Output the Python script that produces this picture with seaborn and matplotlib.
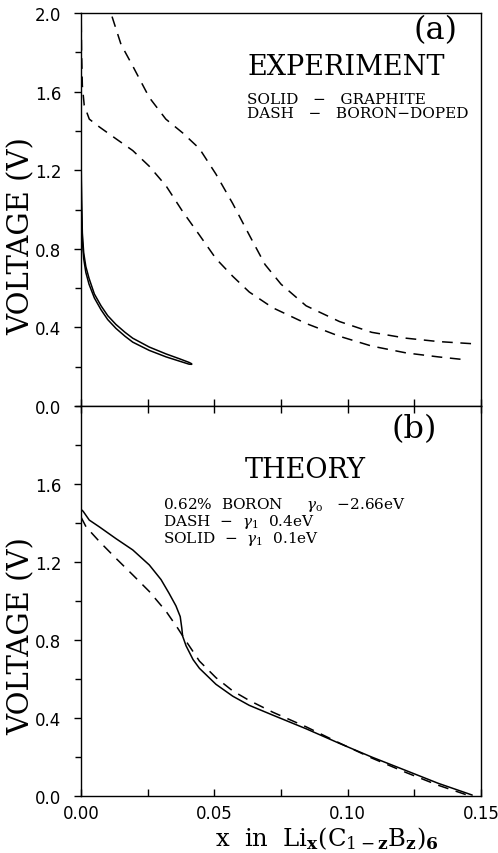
import matplotlib
matplotlib.use("Agg")
import matplotlib.pyplot as plt
import seaborn as sns
from matplotlib.ticker import MultipleLocator, FixedLocator, FormatStrFormatter

sns.set_style("ticks")
plt.rcParams["font.family"] = ["DejaVu Sans"]
plt.rcParams["mathtext.fontset"] = "dejavuserif"
for key in ("text.color", "axes.labelcolor", "xtick.color", "ytick.color", "axes.edgecolor"):
    plt.rcParams[key] = "black"

SERIF = "DejaVu Serif"

# (a) experiment: graphite (two solid branches)
graphite_x = [0.0000, 0.0002, 0.0005, 0.0010, 0.0018, 0.0030, 0.0050, 0.0075, 0.0100,
              0.0131, 0.0165, 0.0194, 0.0256, 0.0319, 0.0370, 0.0405, 0.0415]
graphite_v_upper = [1.30, 1.05, 0.88, 0.78, 0.71, 0.65, 0.57, 0.51, 0.46,
                    0.415, 0.375, 0.345, 0.300, 0.265, 0.240, 0.222, 0.215]
graphite_v_lower = [1.25, 1.00, 0.84, 0.75, 0.68, 0.62, 0.55, 0.49, 0.44,
                    0.395, 0.355, 0.325, 0.283, 0.250, 0.228, 0.213, 0.212]

# (a) experiment: boron-doped (two dashed branches)
boron_up_x = [0.0095, 0.0112, 0.0150, 0.0194, 0.0256, 0.0318, 0.0381, 0.0444, 0.0506,
              0.0569, 0.0631, 0.0690, 0.0750, 0.0844, 0.0969, 0.1090, 0.1220, 0.1340, 0.1480]
boron_up_v = [2.08, 2.00, 1.84, 1.73, 1.57, 1.46, 1.39, 1.31, 1.18,
              1.03, 0.87, 0.72, 0.62, 0.51, 0.43, 0.375, 0.345, 0.328, 0.316]
boron_lo_x = [0.0000, 0.0002, 0.0005, 0.0012, 0.0031, 0.0069, 0.0131, 0.0194, 0.0256,
              0.0319, 0.0381, 0.0444, 0.0506, 0.0569, 0.0631, 0.0719, 0.0844, 0.0969,
              0.1090, 0.1220, 0.1340, 0.1437]
boron_lo_v = [2.05, 1.80, 1.63, 1.53, 1.46, 1.42, 1.36, 1.30, 1.22,
              1.12, 0.99, 0.87, 0.75, 0.66, 0.58, 0.50, 0.42, 0.355,
              0.305, 0.270, 0.250, 0.236]

# (b) theory
th_solid_x = [0.0000, 0.0008, 0.0031, 0.0069, 0.0131, 0.0194, 0.0256, 0.0300, 0.0330,
              0.0356, 0.0372, 0.0378, 0.0381, 0.0394, 0.0420, 0.0444, 0.0506, 0.0569,
              0.0631, 0.0719, 0.0844, 0.0969, 0.1090, 0.1220, 0.1340, 0.1467]
th_solid_v = [1.47, 1.46, 1.415, 1.38, 1.32, 1.262, 1.185, 1.11, 1.04,
              0.975, 0.92, 0.86, 0.82, 0.77, 0.70, 0.655, 0.573, 0.512,
              0.465, 0.415, 0.345, 0.270, 0.200, 0.130, 0.065, 0.005]
th_dash_x = [0.0000, 0.0019, 0.0069, 0.0131, 0.0194, 0.0256, 0.0319, 0.0362, 0.0394,
             0.0444, 0.0506, 0.0569, 0.0631, 0.0719, 0.0844, 0.0969, 0.1090, 0.1220,
             0.1340, 0.1455]
th_dash_v = [1.43, 1.38, 1.305, 1.219, 1.134, 1.049, 0.947, 0.862, 0.794,
             0.692, 0.607, 0.539, 0.490, 0.430, 0.355, 0.272, 0.195, 0.120,
             0.055, 0.002]

DASH = (0, (7, 5))
LW = 1.1

fig = plt.figure(figsize=(4.98, 8.54), dpi=100)
ax1 = fig.add_axes([0.1627, 0.5234, 0.8032, 0.4602])
ax2 = fig.add_axes([0.1627, 0.0667, 0.8032, 0.4567])

for v in (graphite_v_upper, graphite_v_lower):
    sns.lineplot(x=graphite_x, y=v, ax=ax1, color="black", lw=LW, sort=False, estimator=None)
sns.lineplot(x=boron_up_x, y=boron_up_v, ax=ax1, color="black", lw=LW,
             linestyle=DASH, sort=False, estimator=None)
sns.lineplot(x=boron_lo_x, y=boron_lo_v, ax=ax1, color="black", lw=LW,
             linestyle=DASH, sort=False, estimator=None)

sns.lineplot(x=th_solid_x, y=th_solid_v, ax=ax2, color="black", lw=LW, sort=False, estimator=None)
sns.lineplot(x=th_dash_x, y=th_dash_v, ax=ax2, color="black", lw=LW,
             linestyle=DASH, sort=False, estimator=None)

for ax in (ax1, ax2):
    ax.set_xlim(0, 0.15)
    ax.set_ylim(0, 2.0)
    ax.xaxis.set_major_locator(MultipleLocator(0.05))
    ax.xaxis.set_minor_locator(MultipleLocator(0.025))
    ax.yaxis.set_minor_locator(MultipleLocator(0.2))
    for s in ax.spines.values():
        s.set_linewidth(1.0)
        s.set_visible(True)
    ax.tick_params(axis="y", which="major", direction="out", length=5, width=1.0,
                   pad=9, labelsize=12, left=True, right=False)
    ax.tick_params(axis="y", which="minor", direction="out", length=4, width=1.0,
                   left=True, right=False)
    ax.tick_params(axis="x", which="both", direction="in", length=5, width=1.0,
                   pad=6, labelsize=12)
    ax.set_ylabel("VOLTAGE (V)", family=SERIF, fontsize=21)
    ax.yaxis.label.set_va("center")
    ax.yaxis.label.set_ha("center")

ax1.yaxis.set_major_locator(MultipleLocator(0.4))
ax1.yaxis.set_major_formatter(FormatStrFormatter("%.1f"))
ax1.tick_params(axis="x", which="both", bottom=True, top=False, labelbottom=False)
ax1.set_xlabel("")
ax1.yaxis.set_label_coords(-0.148, 0.435)

ax2.yaxis.set_major_locator(FixedLocator([0.0, 0.4, 0.8, 1.2, 1.6]))
ax2.yaxis.set_major_formatter(FormatStrFormatter("%.1f"))
ax2.xaxis.set_major_formatter(FormatStrFormatter("%.2f"))
ax2.tick_params(axis="x", which="both", bottom=True, top=True)
ax2.yaxis.set_label_coords(-0.148, 0.413)
ax2.set_xlabel(r"x  in  Li$_{\mathbf{x}}$(C$_{1-\mathbf{z}}$B$_{\mathbf{z}}$)$_{\mathbf{6}}$",
               family=SERIF, fontsize=17.5)
ax2.xaxis.set_label_coords(0.615, -0.106)
ax2.xaxis.label.set_va("center")

# panel annotations
ax1.text(0.885, 0.957, "(a)", transform=ax1.transAxes, family=SERIF, fontsize=23,
         ha="center", va="center")
ax1.text(0.6625, 0.865, "EXPERIMENT", transform=ax1.transAxes, family=SERIF,
         fontsize=19.5, ha="center", va="center")
ax1.text(0.415, 0.781, "SOLID   \u2212   GRAPHITE", transform=ax1.transAxes, family=SERIF,
         fontsize=11, ha="left", va="center")
ax1.text(0.415, 0.745, "DASH   \u2212   BORON\u2212DOPED", transform=ax1.transAxes, family=SERIF,
         fontsize=11, ha="left", va="center")

ax2.text(0.8325, 0.941, "(b)", transform=ax2.transAxes, family=SERIF, fontsize=23,
         ha="center", va="center")
ax2.text(0.56, 0.836, "THEORY", transform=ax2.transAxes, family=SERIF,
         fontsize=19.5, ha="center", va="center")
theory_lines = [
    r"0.62%  BORON     $\gamma_{\rm o}$   $-$2.66eV",
    r"DASH  $-$  $\gamma_1$  0.4eV",
    r"SOLID  $-$  $\gamma_1$  0.1eV",
]
for txt, yy in zip(theory_lines, [0.748, 0.705, 0.662]):
    ax2.text(0.205, yy, txt, transform=ax2.transAxes, family=SERIF,
             fontsize=11, ha="left", va="center")

fig.savefig("out.png", dpi=100)
